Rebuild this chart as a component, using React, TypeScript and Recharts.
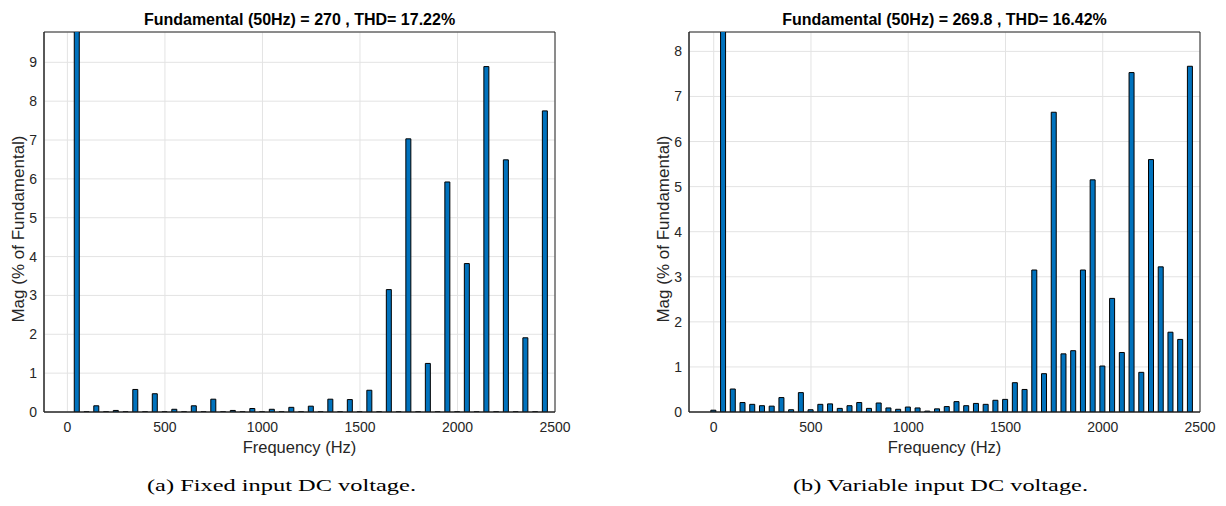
import React from "react";
import { BarChart, Bar, XAxis, YAxis, CartesianGrid, ReferenceArea } from "recharts";

// harmonic frequencies (Hz)
const FREQS = [
  0, 50, 100, 150, 200, 250, 300, 350, 400, 450, 500, 550, 600, 650, 700, 750, 800, 850, 900, 950,
  1000, 1050, 1100, 1150, 1200, 1250, 1300, 1350, 1400, 1450, 1500, 1550, 1600, 1650, 1700, 1750,
  1800, 1850, 1900, 1950, 2000, 2050, 2100, 2150, 2200, 2250, 2300, 2350, 2400, 2450,
];

// Mag (% of fundamental), fixed input DC voltage
const FIXED_MAG = [
  0, 100, 0.005, 0.16, 0.005, 0.04, 0.005, 0.58, 0.005, 0.47, 0.005, 0.07, 0.005, 0.16, 0.005, 0.33,
  0.005, 0.04, 0.005, 0.09, 0.005, 0.07, 0.005, 0.12, 0.005, 0.15, 0.005, 0.33, 0.005, 0.32, 0.005,
  0.56, 0.005, 3.15, 0.005, 7.03, 0.005, 1.25, 0.005, 5.92, 0.005, 3.82, 0.005, 8.89, 0.005, 6.49,
  0.005, 1.91, 0.005, 7.75,
];

// Mag (% of fundamental), variable input DC voltage
const VARIABLE_MAG = [
  0.04, 100, 0.51, 0.21, 0.17, 0.14, 0.13, 0.32, 0.05, 0.43, 0.05, 0.17, 0.18, 0.08, 0.14, 0.21,
  0.08, 0.2, 0.09, 0.06, 0.11, 0.09, 0.02, 0.07, 0.12, 0.23, 0.14, 0.19, 0.17, 0.26, 0.28, 0.65,
  0.5, 3.15, 0.85, 6.65, 1.29, 1.36, 3.15, 5.15, 1.02, 2.52, 1.32, 7.53, 0.88, 5.6, 3.22, 1.77,
  1.61, 7.67,
];

const X_TICKS = [0, 500, 1000, 1500, 2000, 2500];
const Y_TICKS_FIXED = [0, 1, 2, 3, 4, 5, 6, 7, 8, 9];
const Y_TICKS_VAR = [0, 1, 2, 3, 4, 5, 6, 7, 8];

const TITLE_FIXED = "Fundamental (50Hz) = 270 , THD= 17.22%";
const TITLE_VAR = "Fundamental (50Hz) = 269.8 , THD= 16.42%";
const CAPTION_FIXED = "(a) Fixed input DC voltage.";
const CAPTION_VAR = "(b) Variable input DC voltage.";

const AXIS = "#262626";
const FONT = "'Liberation Sans', Arial, sans-serif";
const tickStyle = { fontSize: 14, fill: AXIS, fontFamily: FONT };

const toRows = (mags: number[]) => FREQS.map((f, i) => ({ freq: f, mag: mags[i] }));

type PanelProps = {
  mags: number[];
  xMin: number;
  yMax: number;
  yTicks: number[];
  left: number;
  marginLeft: number;
  marginRight: number;
};

const Panel = ({ mags, xMin, yMax, yTicks, left, marginLeft, marginRight }: PanelProps) => (
  <div style={{ position: "absolute", left, top: 0 }}>
    <BarChart
      width={613}
      height={440}
      data={toRows(mags)}
      margin={{ top: 32, right: marginRight, bottom: 0, left: marginLeft }}
    >
      <CartesianGrid stroke="#e3e3e3" strokeWidth={1} />
      <XAxis
        dataKey="freq"
        type="number"
        domain={[xMin, 2500]}
        ticks={X_TICKS}
        height={28}
        tickLine={false}
        tickSize={5}
        tickMargin={5}
        axisLine={{ stroke: AXIS }}
        tick={tickStyle}
      />
      <XAxis xAxisId="bin" type="number" domain={[xMin, 2500]} ticks={X_TICKS} orientation="bottom" mirror tick={false} axisLine={false} tickSize={5} tickLine={{ stroke: AXIS }} height={28} />
      <XAxis xAxisId="top" type="number" domain={[xMin, 2500]} ticks={X_TICKS} orientation="top" mirror tick={false} axisLine={false} tickSize={5} tickLine={{ stroke: AXIS }} height={0} />
      <YAxis
        type="number"
        domain={[0, yMax]}
        ticks={yTicks}
        allowDataOverflow
        width={44}
        tickLine={false}
        tickSize={5}
        tickMargin={2}
        axisLine={{ stroke: AXIS }}
        tick={tickStyle}
      />
      <YAxis yAxisId="lin" type="number" domain={[0, yMax]} ticks={yTicks} orientation="left" mirror tick={false} axisLine={false} tickSize={5} tickLine={{ stroke: AXIS }} width={0} />
      <YAxis yAxisId="right" type="number" domain={[0, yMax]} ticks={yTicks} orientation="right" mirror tick={false} axisLine={false} tickSize={5} tickLine={{ stroke: AXIS }} width={0} />
      <Bar dataKey="mag" fill="#0072BD" stroke="#000" strokeWidth={1} barSize={5} isAnimationActive={false} />
      <ReferenceArea x1={xMin} x2={2500} y1={0} y2={yMax} fill="none" fillOpacity={0} stroke={AXIS} strokeWidth={1} ifOverflow="visible" />
    </BarChart>
  </div>
);

const App = () => {
  return (
    <div style={{ position: "absolute", left: 0, top: 0, width: 1226, height: 506, background: "#fff" }}>
      <Panel mags={FIXED_MAG} xMin={-120} yMax={9.78} yTicks={Y_TICKS_FIXED} left={0} marginLeft={0} marginRight={58} />
      <Panel mags={VARIABLE_MAG} xMin={-127} yMax={8.43} yTicks={Y_TICKS_VAR} left={613} marginLeft={32} marginRight={26} />
      <svg width={1226} height={506} style={{ position: "absolute", left: 0, top: 0, pointerEvents: "none" }}>
        <g fontFamily={FONT} fill="#000">
          <text x={299.5} y={25} textAnchor="middle" fontSize={16} fontWeight="bold">{TITLE_FIXED}</text>
          <text x={944.5} y={25} textAnchor="middle" fontSize={16} fontWeight="bold">{TITLE_VAR}</text>
          <text x={299.5} y={453} textAnchor="middle" fontSize={16.5} fill={AXIS}>Frequency (Hz)</text>
          <text x={944.5} y={453} textAnchor="middle" fontSize={16.5} fill={AXIS}>Frequency (Hz)</text>
          <text transform="translate(24,229) rotate(-90)" textAnchor="middle" fontSize={17} fill={AXIS}>Mag (% of Fundamental)</text>
          <text transform="translate(669,229) rotate(-90)" textAnchor="middle" fontSize={17} fill={AXIS}>Mag (% of Fundamental)</text>
        </g>
        <g fontFamily="'Liberation Serif', 'Times New Roman', serif" fill="#000" fontSize={17}>
          <text x={147} y={491} textLength={269} lengthAdjust="spacingAndGlyphs">{CAPTION_FIXED}</text>
          <text x={793} y={491} textLength={295} lengthAdjust="spacingAndGlyphs">{CAPTION_VAR}</text>
        </g>
      </svg>
    </div>
  );
};

export default App;
